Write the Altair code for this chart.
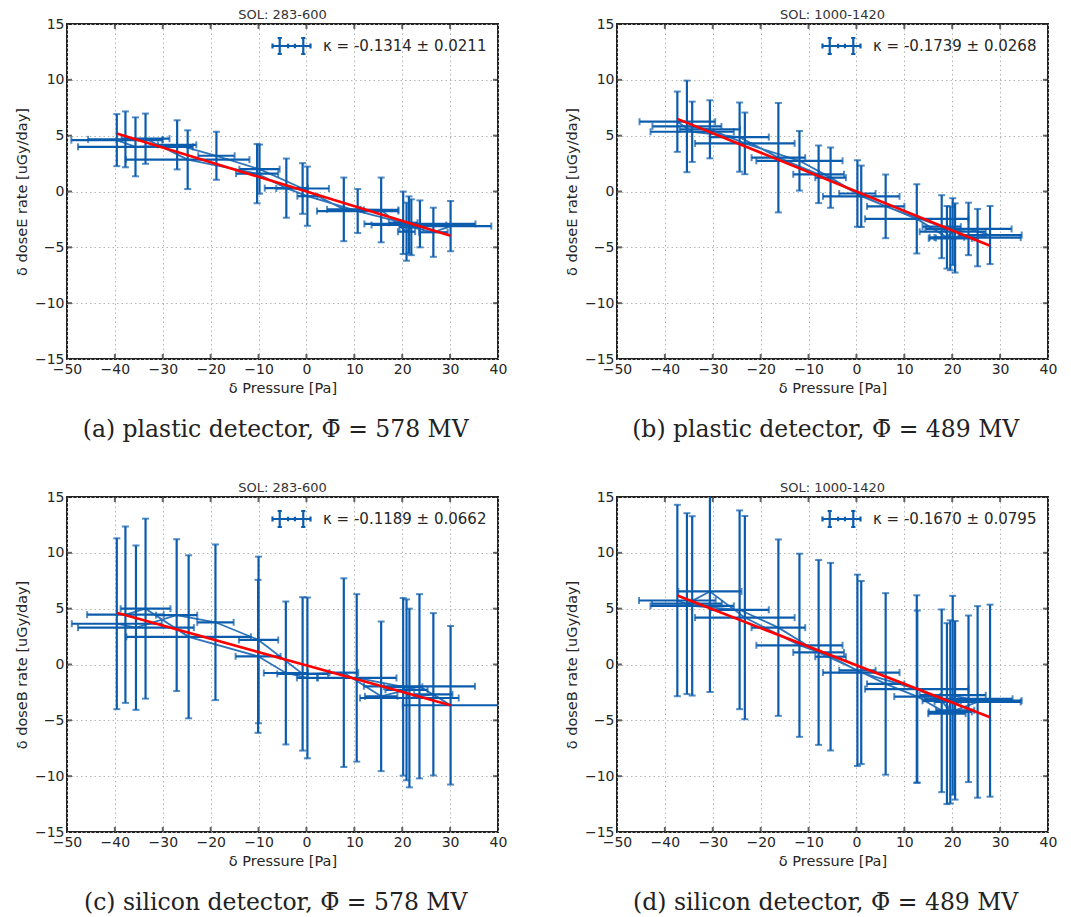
import altair as alt
import pandas as pd

# ---------------- data ----------------
# panel (a): plastic detector, SOL 283-600
a_x = [-39.6, -37.8, -35.7, -33.6, -27.0, -24.8, -18.8, -10.3, -9.8, -4.2, -0.8, 0.2, 7.8, 10.7, 15.6, 20.2, 20.9, 21.4, 21.9, 23.7, 26.5, 30.1]
a_y = [4.6, 4.67, 4.0, 4.73, 4.18, 2.85, 3.2, 1.6, 2.0, 0.3, 0.27, -0.42, -1.6, -1.75, -1.65, -2.8, -3.6, -3.0, -3.2, -2.9, -3.65, -3.1]
a_xerr = [9.5, 7.8, 12.0, 5.0, 4.0, 12.9, 3.8, 4.4, 4.2, 4.5, 5.5, 2.1, 3.5, 8.5, 3.6, 3.0, 1.8, 7.8, 2.5, 11.6, 3.0, 8.5]
a_yerr = [2.33, 2.5, 2.64, 2.25, 2.2, 2.63, 2.15, 2.65, 2.2, 2.65, 2.27, 2.65, 2.85, 1.97, 2.9, 2.8, 2.6, 2.56, 2.5, 2.1, 2.2, 2.25]

# panel (b): plastic detector, SOL 1000-1420
b_x = [-37.4, -35.4, -34.3, -30.6, -24.4, -23.3, -16.3, -11.9, -7.9, -5.4, 0.2, 1.0, 6.1, 12.6, 17.8, 18.9, 19.6, 20.1, 20.6, 23.4, 25.3, 27.9]
b_y = [6.25, 5.83, 5.35, 5.57, 4.87, 4.31, 3.03, 2.75, 1.54, 1.24, -0.18, -0.43, -1.33, -2.45, -3.15, -4.1, -4.2, -3.6, -4.16, -3.35, -4.13, -3.9]
b_xerr = [7.9, 7.2, 8.7, 6.3, 6.1, 10.4, 5.6, 9.0, 5.3, 3.2, 3.8, 8.0, 3.9, 10.8, 4.0, 3.6, 4.5, 6.9, 4.0, 9.0, 9.0, 6.6]
b_yerr = [2.7, 4.1, 2.7, 2.6, 3.1, 2.76, 4.9, 2.67, 2.58, 2.7, 2.98, 2.75, 2.85, 3.1, 2.82, 2.8, 2.85, 3.0, 3.1, 2.35, 2.57, 2.6]

# panel (c): silicon detector, SOL 283-600
c_x = [-39.6, -37.8, -35.6, -33.6, -27.1, -24.6, -19.0, -10.1, -10.0, -4.3, -0.8, 0.2, 7.8, 10.5, 15.6, 20.2, 20.9, 21.5, 23.6, 26.5, 30.1]
c_y = [3.65, 4.46, 3.3, 5.0, 4.42, 2.48, 3.78, 0.73, 2.2, -0.76, -0.84, -1.2, -0.73, -1.2, -2.85, -2.0, -2.27, -3.0, -1.95, -2.67, -3.65]
c_xerr = [9.4, 8.0, 12.1, 5.2, 4.3, 13.0, 3.8, 4.7, 4.1, 4.6, 5.3, 2.2, 3.0, 8.3, 3.4, 4.0, 4.4, 10.3, 11.6, 4.0, 10.0]
c_yerr = [7.65, 7.9, 7.36, 8.06, 6.8, 7.3, 6.97, 6.85, 7.46, 6.4, 6.87, 7.2, 8.45, 7.5, 6.7, 7.95, 8.1, 8.0, 8.25, 7.27, 7.1]

# panel (d): silicon detector, SOL 1000-1420
d_x = [-37.4, -35.4, -34.3, -30.6, -24.4, -23.3, -16.3, -11.9, -7.9, -5.4, 0.2, 1.0, 6.1, 12.6, 12.7, 17.8, 18.9, 19.6, 20.1, 20.6, 23.4, 25.3, 27.9]
d_y = [5.73, 5.45, 5.25, 6.54, 4.9, 4.2, 3.3, 1.72, 1.08, 0.7, -0.52, -0.72, -1.74, -2.2, -2.87, -3.25, -4.4, -4.24, -2.75, -4.1, -3.07, -3.35, -3.24]
d_xerr = [8.0, 7.3, 8.7, 6.6, 6.1, 10.4, 5.6, 9.0, 5.3, 3.2, 3.8, 8.0, 3.9, 10.8, 4.8, 4.0, 3.9, 4.5, 6.9, 4.0, 9.2, 9.0, 6.6]
d_yerr = [8.57, 8.1, 8.03, 9.0, 8.9, 9.1, 7.9, 8.2, 8.28, 8.4, 8.57, 8.2, 8.13, 8.4, 7.7, 8.18, 8.1, 8.2, 8.9, 8.0, 7.46, 8.58, 8.6]

# fit results: slope kappa, its error, intercept
kappas = [-0.1314, -0.1739, -0.1189, -0.1670]
kappa_errs = [0.0211, 0.0268, 0.0662, 0.0795]
intercepts = [0.0, 0.0, -0.08, -0.07]

sol_titles = ["SOL: 283-600", "SOL: 1000-1420", "SOL: 283-600", "SOL: 1000-1420"]
y_titles = ["δ doseE rate [uGy/day]", "δ doseE rate [uGy/day]",
            "δ doseB rate [uGy/day]", "δ doseB rate [uGy/day]"]
captions = ["(a) plastic detector, \u03A6\u0304 = 578 MV",
            "(b) plastic detector, \u03A6\u0304 = 489 MV",
            "(c) silicon detector, \u03A6\u0304 = 578 MV",
            "(d) silicon detector, \u03A6\u0304 = 489 MV"]
x_title = "δ Pressure [Pa]"

X_TICKS = [-50, -40, -30, -20, -10, 0, 10, 20, 30, 40]
Y_TICKS = [-15, -10, -5, 0, 5, 10, 15]

BLUE = "#0b5cad"
RED = "#ff0000"
FRAME = "#222222"
TEXT = "#262626"

W, H = 431, 335

LEGEND_PATH = ("M-1,0L1,0 M-1,-0.13L-1,0.13 M1,-0.13L1,0.13 "
               "M-0.62,-0.42L-0.62,0.42 M-0.73,-0.42L-0.51,-0.42 M-0.73,0.42L-0.51,0.42 "
               "M0.62,-0.42L0.62,0.42 M0.51,-0.42L0.73,-0.42 M0.51,0.42L0.73,0.42 "
               "M-0.18,-0.12L-0.18,0.12 M0.18,-0.12L0.18,0.12")

AXIS_STYLE = dict(labelFont="DejaVu Sans", labelFontSize=14, labelColor=TEXT, labelPadding=3,
                  labelFlush=False, titleFont="DejaVu Sans", titleFontSize=14.5,
                  titleFontWeight="normal", titleColor=TEXT, titlePadding=5,
                  ticks=False, domain=False, grid=True,
                  gridColor="#b5b5b5", gridDash=[1.5, 3], gridWidth=1)


def panel(xs, ys, xerrs, yerrs, k, kerr, b, sol, ytitle):
    n = len(xs)
    # drawing order of the connecting line: right along even points, back along odd points
    path = list(range(0, n, 2)) + list(range(n - 1 if (n - 1) % 2 else n - 2, 0, -2))
    seq = [0] * n
    for pos, i in enumerate(path):
        seq[i] = pos
    label = f"κ = {k:.4f}  ±  {kerr:.4f}"
    df = pd.DataFrame({"x": xs, "y": ys, "xerr": xerrs, "yerr": yerrs, "seq": seq})
    df["ylo"] = df["y"] - df["yerr"]
    df["yhi"] = df["y"] + df["yerr"]
    df["xlo"] = df["x"] - df["xerr"]
    df["xhi"] = df["x"] + df["xerr"]
    df["label"] = label

    fx = [min(xs), max(xs)]
    fit = pd.DataFrame({"x": fx, "y": [k * v + b for v in fx]})

    xs_ = alt.Scale(domain=[-50, 40], nice=False, zero=False)
    ys_ = alt.Scale(domain=[-15, 15], nice=False, zero=False)
    xaxis = alt.Axis(values=X_TICKS, title=x_title, **AXIS_STYLE)
    yaxis = alt.Axis(values=Y_TICKS, title=ytitle, **AXIS_STYLE)

    def X(f):
        return alt.X(f, type="quantitative", scale=xs_, axis=xaxis)

    def Y(f):
        return alt.Y(f, type="quantitative", scale=ys_, axis=yaxis)

    base = alt.Chart(df)
    vbar = base.mark_rule(strokeWidth=2.2, clip=True).encode(
        x=X("x"), y=Y("ylo"), y2="yhi",
        color=alt.Color("label:N", scale=alt.Scale(domain=[label], range=[BLUE]),
                        legend=alt.Legend(title=None, orient="none", legendX=204, legendY=1.5,
                                          symbolType=LEGEND_PATH, symbolSize=1444,
                                          symbolStrokeWidth=2.2, symbolFillColor="transparent",
                                          labelFontSize=15, labelColor=TEXT,
                                          labelFont="DejaVu Sans", labelOffset=11, labelLimit=0)))
    vcap = base.transform_fold(["ylo", "yhi"], as_=["end", "yc"]).mark_tick(
        orient="horizontal", size=7, thickness=2, color=BLUE, clip=True
    ).encode(x=X("x"), y=Y("yc"))
    hbar = base.mark_rule(strokeWidth=2.2, color=BLUE, clip=True).encode(
        x=X("xlo"), x2="xhi", y=Y("y"))
    hcap = base.transform_fold(["xlo", "xhi"], as_=["end", "xc"]).mark_tick(
        orient="vertical", size=7, thickness=2, color=BLUE, clip=True
    ).encode(x=X("xc"), y=Y("y"))
    conn = base.mark_line(strokeWidth=1.8, color=BLUE, opacity=0.85, clip=True).encode(
        x=X("x"), y=Y("y"), order="seq:Q")
    fitl = alt.Chart(fit).mark_line(color=RED, strokeWidth=2.6).encode(x=X("x"), y=Y("y"))

    xt = pd.DataFrame({"t": X_TICKS})
    yt = pd.DataFrame({"t": Y_TICKS})
    tk = dict(size=10, thickness=2, color=FRAME, clip=True)
    t_bot = alt.Chart(xt).mark_tick(orient="vertical", **tk).encode(
        x=X("t"), y=alt.YDatum(-15, type="quantitative", scale=ys_, axis=yaxis))
    t_top = alt.Chart(xt).mark_tick(orient="vertical", **tk).encode(
        x=X("t"), y=alt.YDatum(15, type="quantitative", scale=ys_, axis=yaxis))
    t_lft = alt.Chart(yt).mark_tick(orient="horizontal", **tk).encode(
        y=Y("t"), x=alt.XDatum(-50, type="quantitative", scale=xs_, axis=xaxis))
    t_rgt = alt.Chart(yt).mark_tick(orient="horizontal", **tk).encode(
        y=Y("t"), x=alt.XDatum(40, type="quantitative", scale=xs_, axis=xaxis))

    return alt.layer(vbar, vcap, hbar, hcap, conn, fitl, t_bot, t_top, t_lft, t_rgt).properties(
        width=W, height=H,
        title=alt.TitleParams(sol, fontSize=13, font="DejaVu Sans", fontWeight="normal",
                              color="#333333", offset=-5, anchor="middle", frame="group"))


data = [(a_x, a_y, a_xerr, a_yerr), (b_x, b_y, b_xerr, b_yerr),
        (c_x, c_y, c_xerr, c_yerr), (d_x, d_y, d_xerr, d_yerr)]

cells = []
for i, (xs, ys, xe, ye) in enumerate(data):
    p = panel(xs, ys, xe, ye, kappas[i], kappa_errs[i], intercepts[i], sol_titles[i], y_titles[i])
    cell = alt.vconcat(p, title=alt.TitleParams(
        captions[i], orient="bottom", font="DejaVu Serif", fontSize=23.5,
        fontWeight="normal", color="#222222", offset=22, dx=15, anchor="middle"))
    cells.append(cell.resolve_scale(color="independent"))

row1 = alt.hconcat(cells[0], cells[1], spacing=55).resolve_scale(color="independent")
row2 = alt.hconcat(cells[2], cells[3], spacing=55).resolve_scale(color="independent")

chart = alt.vconcat(row1, row2, spacing=40).resolve_scale(color="independent").properties(
    padding={"left": 5, "top": 0, "right": 5, "bottom": 0}
).configure_view(
    stroke=FRAME, strokeWidth=2
)

chart.save("out.html", embed_options={"renderer": "svg", "actions": False})
